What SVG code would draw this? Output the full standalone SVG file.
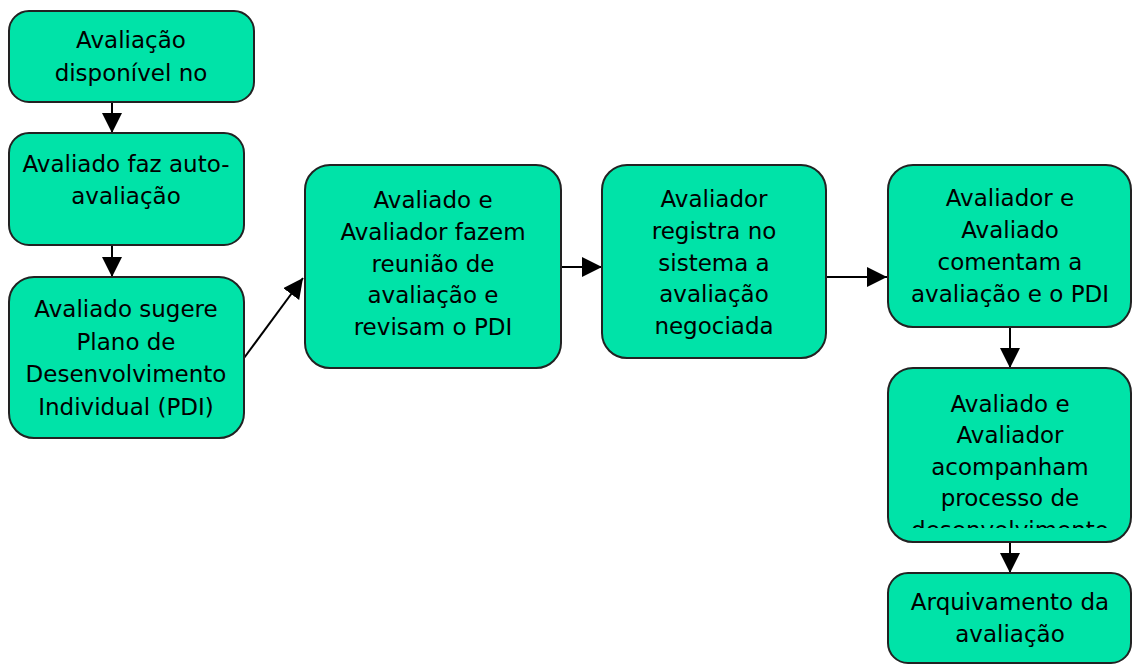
<svg xmlns="http://www.w3.org/2000/svg" width="1132" height="666" viewBox="0 0 1132 666">
<style>
.box{fill:#00E3A8;stroke:#222;stroke-width:2}
.t{font-family:"DejaVu Sans",Verdana,sans-serif;font-size:23px;fill:#000;text-anchor:middle}
.c{stroke:#000;stroke-width:2;fill:none;marker-end:url(#ah)}
</style>
<defs>
<marker id="ah" markerUnits="userSpaceOnUse" markerWidth="20" markerHeight="20" refX="20" refY="10" orient="auto">
<path d="M0,0 L20,10 L0,20 z" fill="#000"/>
</marker>
<clipPath id="clip7"><rect x="888" y="368" width="244" height="160"/></clipPath>
</defs>
<rect width="1132" height="666" fill="#fff"/>
<g id="connectors">
<line class="c" x1="112" y1="102" x2="112" y2="133"/>
<line class="c" x1="112" y1="245" x2="112" y2="277"/>
<line class="c" x1="244" y1="358" x2="303" y2="278"/>
<line class="c" x1="561" y1="267" x2="602" y2="267"/>
<line class="c" x1="826" y1="277" x2="887" y2="277"/>
<line class="c" x1="1010" y1="327" x2="1010" y2="368"/>
<line class="c" x1="1010" y1="542" x2="1010" y2="573"/>
</g>
<g id="n1">
<rect class="box" x="9" y="11" width="245" height="91" rx="20"/>
<text class="t" x="131" y="48">Avaliação</text>
<text class="t" x="131" y="81">disponível no</text>
</g>
<g id="n2">
<rect class="box" x="9" y="133" width="235" height="112" rx="20"/>
<text class="t" x="126" y="172">Avaliado faz auto-</text>
<text class="t" x="126" y="204">avaliação</text>
</g>
<g id="n3">
<rect class="box" x="9" y="277" width="235" height="161" rx="25"/>
<text class="t" x="126" y="317">Avaliado sugere</text>
<text class="t" x="126" y="350">Plano de</text>
<text class="t" x="126" y="382">Desenvolvimento</text>
<text class="t" x="126" y="415">Individual (PDI)</text>
</g>
<g id="n4">
<rect class="box" x="305" y="165" width="256" height="203" rx="25"/>
<text class="t" x="433" y="208">Avaliado e</text>
<text class="t" x="433" y="240">Avaliador fazem</text>
<text class="t" x="433" y="272">reunião de</text>
<text class="t" x="433" y="303">avaliação e</text>
<text class="t" x="433" y="335">revisam o PDI</text>
</g>
<g id="n5">
<rect class="box" x="602" y="165" width="224" height="193" rx="25"/>
<text class="t" x="714" y="207">Avaliador</text>
<text class="t" x="714" y="239">registra no</text>
<text class="t" x="714" y="271">sistema a</text>
<text class="t" x="714" y="302">avaliação</text>
<text class="t" x="714" y="334">negociada</text>
</g>
<g id="n6">
<rect class="box" x="888" y="165" width="243" height="162" rx="25"/>
<text class="t" x="1010" y="206">Avaliador e</text>
<text class="t" x="1010" y="238">Avaliado</text>
<text class="t" x="1010" y="270">comentam a</text>
<text class="t" x="1010" y="302">avaliação e o PDI</text>
</g>
<g id="n7">
<rect class="box" x="888" y="368" width="243" height="174" rx="25"/>
<g clip-path="url(#clip7)">
<text class="t" x="1010" y="412">Avaliado e</text>
<text class="t" x="1010" y="443">Avaliador</text>
<text class="t" x="1010" y="475">acompanham</text>
<text class="t" x="1010" y="506">processo de</text>
<text class="t" x="1010" y="538">desenvolvimento</text>
</g>
</g>
<g id="n8">
<rect class="box" x="888" y="573" width="243" height="90" rx="20"/>
<text class="t" x="1010" y="610">Arquivamento da</text>
<text class="t" x="1010" y="642">avaliação</text>
</g>
</svg>
